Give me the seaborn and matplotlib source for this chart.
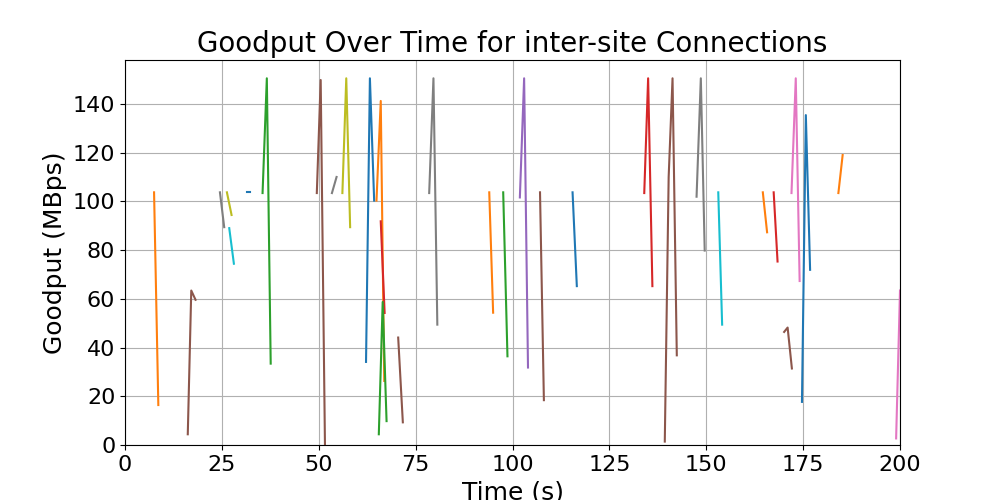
import seaborn as sns
import matplotlib.pyplot as plt
import pandas as pd

# one entry per connection: sample times (s) and goodput (MBps)
conn_times = [
    [7.5, 8.6],
    [16.2, 17.1, 18.2],
    [24.5, 25.6],
    [26.3, 27.5],
    [26.9, 28.1],
    [31.5, 32.3],
    [35.5, 36.6, 37.6],
    [49.5, 50.5, 51.6],
    [53.4, 54.6],
    [56.1, 57.1, 58.1],
    [62.2, 63.2, 64.3],
    [64.9, 66.0, 66.9],
    [66.0, 67.0],
    [65.5, 66.5, 67.5],
    [70.5, 71.7],
    [78.5, 79.6, 80.6],
    [94.0, 95.0],
    [97.6, 98.7],
    [101.9, 103.0, 104.0],
    [107.1, 108.1],
    [115.5, 116.6],
    [134.0, 135.0, 136.1],
    [139.3, 140.3, 141.3, 142.4],
    [147.5, 148.6, 149.6],
    [153.1, 154.1],
    [164.6, 165.7],
    [167.4, 168.4],
    [170.1, 171.0, 172.1],
    [172.0, 173.1, 174.1],
    [174.7, 175.7, 176.8],
    [184.1, 185.2],
    [199.0, 200.0],
]
conn_goodput = [
    [103.7, 16.4],
    [4.4, 63.4, 59.6],
    [103.7, 89.4],
    [103.7, 94.4],
    [89.0, 74.4],
    [103.7, 103.7],
    [103.4, 150.5, 33.4],
    [103.4, 149.8, 0.3],
    [103.4, 110.0],
    [103.4, 150.5, 89.4],
    [34.1, 150.5, 100.3],
    [100.3, 141.2, 26.3],
    [91.8, 54.2],
    [4.4, 58.7, 9.8],
    [44.1, 9.3],
    [103.4, 150.5, 49.4],
    [103.7, 54.3],
    [103.7, 36.4],
    [101.6, 150.5, 31.8],
    [103.7, 18.4],
    [103.7, 65.2],
    [103.4, 150.5, 65.2],
    [1.4, 110.0, 150.5, 36.8],
    [101.9, 150.5, 79.8],
    [103.7, 49.4],
    [103.7, 87.3],
    [103.7, 75.3],
    [46.4, 48.2, 31.4],
    [103.4, 150.5, 67.3],
    [17.7, 135.4, 71.9],
    [103.4, 119.0],
    [2.7, 63.4],
]
conn_colors = [
    "tab:orange", "tab:brown", "tab:gray", "tab:olive", "tab:cyan",
    "tab:blue", "tab:green", "tab:brown", "tab:gray", "tab:olive",
    "tab:blue", "tab:orange", "tab:red", "tab:green", "tab:brown",
    "tab:gray", "tab:orange", "tab:green", "tab:purple", "tab:brown",
    "tab:blue", "tab:red", "tab:brown", "tab:gray", "tab:cyan",
    "tab:orange", "tab:red", "tab:brown", "tab:pink", "tab:blue",
    "tab:orange", "tab:pink",
]

rows = []
for i, (ts, gs) in enumerate(zip(conn_times, conn_goodput)):
    for t, g in zip(ts, gs):
        rows.append({"conn": f"c{i:02d}", "time": t, "goodput": g})
df = pd.DataFrame(rows)
order = [f"c{i:02d}" for i in range(len(conn_times))]

fig, ax = plt.subplots(figsize=(10, 5), dpi=100)
sns.lineplot(data=df, x="time", y="goodput", hue="conn", hue_order=order,
             palette=conn_colors, estimator=None, sort=False, legend=False,
             linewidth=1.5, ax=ax)
ax.set_xlim(0, 200)
ax.set_ylim(bottom=0)
ax.grid(True)
ax.set_title("Goodput Over Time for inter-site Connections", fontsize=20)
ax.set_xlabel("Time (s)", fontsize=18)
ax.set_ylabel("Goodput (MBps)", fontsize=18)
ax.tick_params(labelsize=16)
fig.savefig("out.png")
